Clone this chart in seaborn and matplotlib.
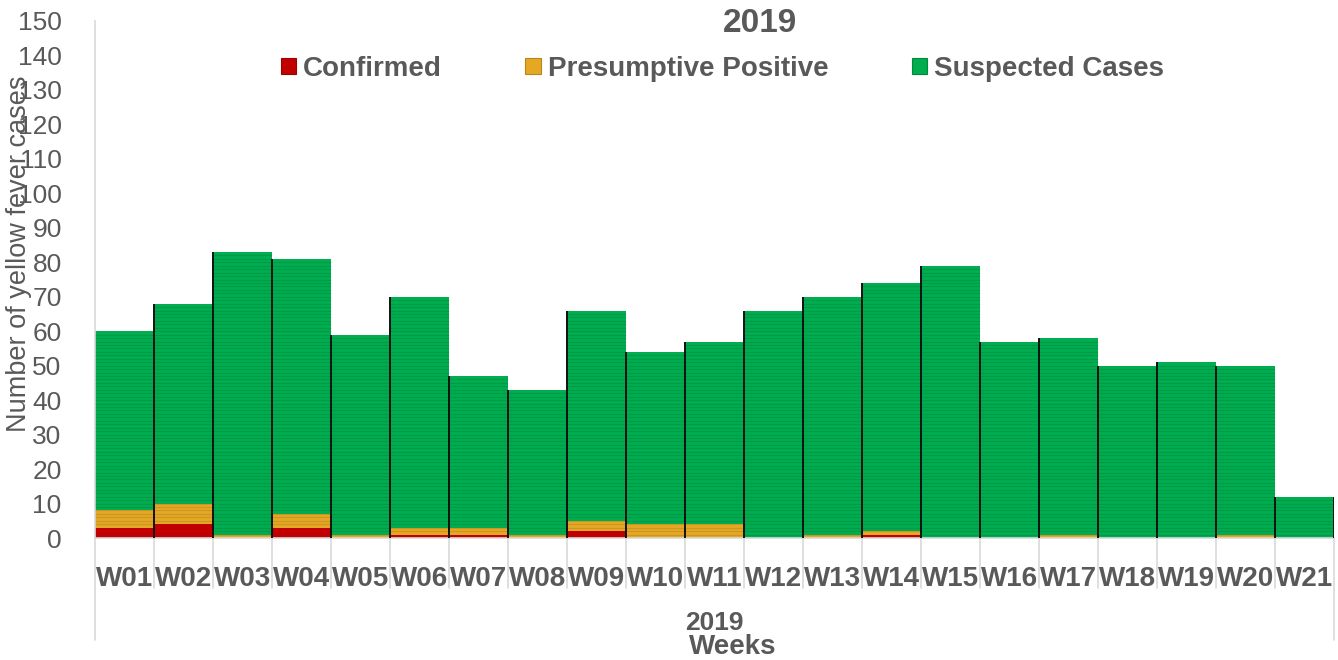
import numpy as np
import pandas as pd
import matplotlib
matplotlib.use("Agg")
import matplotlib.pyplot as plt
from matplotlib.patches import Patch
import matplotlib.transforms as mtransforms
import seaborn as sns

# ---- data ----
weeks = ["W01", "W02", "W03", "W04", "W05", "W06", "W07", "W08", "W09", "W10", "W11",
         "W12", "W13", "W14", "W15", "W16", "W17", "W18", "W19", "W20", "W21"]
confirmed = [3, 4, 0, 3, 0, 1, 1, 0, 2, 0, 0, 0, 0, 1, 0, 0, 0, 0, 0, 0, 0]
presumptive = [5, 6, 1, 4, 1, 2, 2, 1, 3, 4, 4, 0, 1, 1, 0, 0, 1, 0, 0, 1, 0]
suspected = [52, 58, 82, 74, 58, 67, 44, 42, 61, 50, 53, 66, 69, 72, 79, 57, 57, 50, 51, 49, 12]
series_names = ["Confirmed", "Presumptive Positive", "Suspected Cases"]
year_label = "2019"
y_ticks = list(range(0, 151, 10))

# ---- style ----
sns.set_style("white")
plt.rcParams["font.family"] = ["Liberation Sans", "DejaVu Sans"]
TXT = "#595959"
RED = "#C00000"
ORANGE = "#E4A825"
GREEN = "#00AD4F"

df = pd.DataFrame({"week": weeks, "C": confirmed, "P": presumptive, "S": suspected})
df["CP"] = df["C"] + df["P"]
df["total"] = df["CP"] + df["S"]

fig = plt.figure(figsize=(13.38, 6.60), dpi=100)
ax = fig.add_axes([95 / 1338, 1 - 538 / 660, 1239 / 1338, 517 / 660])

# stacked bars: draw cumulative layers
sns.barplot(data=df, x="week", y="total", color=GREEN, width=1, saturation=1,
            linewidth=0, errorbar=None, ax=ax, order=weeks)
sns.barplot(data=df, x="week", y="CP", color=ORANGE, width=1, saturation=1,
            linewidth=0, errorbar=None, ax=ax, order=weeks)
sns.barplot(data=df, x="week", y="C", color=RED, width=1, saturation=1,
            linewidth=0, errorbar=None, ax=ax, order=weeks)

# per-case stripes (each case is a unit block)
for i, row in df.iterrows():
    ys = np.arange(row["C"] + 1, row["total"])
    if len(ys):
        ax.hlines(ys, i - 0.5, i + 0.5, color="black", alpha=0.10, lw=0.9, zorder=3)

# dark left edges of bars (and right edge of last bar)
pos = np.arange(len(weeks))
ax.vlines(pos[1:] - 0.5, 0, df["total"].values[1:], color="#111111", lw=1.4, zorder=4)
ax.vlines(pos[-1] + 0.5, 0, df["total"].values[-1], color="#111111", lw=1.4, zorder=4)

ax.set_xlim(-0.5, len(weeks) - 0.5)
ax.set_ylim(0, 150)
ax.set_yticks(y_ticks)
ax.set_yticklabels([str(t) for t in y_ticks], fontsize=19, color=TXT)
ax.tick_params(axis="y", length=0, pad=24)
ax.tick_params(axis="x", length=0, pad=20)
ax.set_xticks(pos)
ax.set_xticklabels(weeks, fontsize=20, fontweight="bold", color=TXT)

for s in ["top", "right"]:
    ax.spines[s].set_visible(False)
for s in ["left", "bottom"]:
    ax.spines[s].set_color("#D9D9D9")
    ax.spines[s].set_linewidth(1.2)

# category separators below axis
trans = mtransforms.blended_transform_factory(ax.transData, ax.transAxes)
for b in np.arange(len(weeks) + 1) - 0.5:
    outer = (b == -0.5) or (b == len(weeks) - 0.5)
    ax.plot([b, b], [0, -0.198 if outer else -0.097], transform=trans,
            color="#D9D9D9", lw=1.2, clip_on=False, zorder=1)

ax.text(0.5, -0.164, year_label, transform=ax.transAxes, ha="center", va="center",
        fontsize=19, fontweight="bold", color=TXT)
ax.set_xlabel("")
ax.text(0.515, -0.211, "Weeks", transform=ax.transAxes, ha="center", va="center",
        fontsize=20, fontweight="bold", color=TXT)

ax.set_ylabel("Number of yellow fever cases", fontsize=19.5, color=TXT)
ax.yaxis.set_label_coords(-0.051, 0.55)

# title (second line visible)
fig.text(760 / 1338, 1 - 24 / 660, "2019", ha="center", va="center",
         fontsize=24, fontweight="bold", color=TXT)

handles = [Patch(facecolor=RED, edgecolor="#A00000", lw=0.8),
           Patch(facecolor=ORANGE, edgecolor="#B8861A", lw=0.8),
           Patch(facecolor=GREEN, edgecolor="#008A3C", lw=0.8)]
leg = fig.legend(handles, series_names, loc="center left",
                 bbox_to_anchor=(281 / 1338, 1 - 69 / 660), ncol=3, frameon=False,
                 fontsize=20, handlelength=0.55, handleheight=0.5, handletextpad=0.25,
                 columnspacing=3.0, borderpad=0, borderaxespad=0,
                 prop={"weight": "bold", "size": 20})
for t in leg.get_texts():
    t.set_color(TXT)

fig.savefig("out.png", dpi=100)
